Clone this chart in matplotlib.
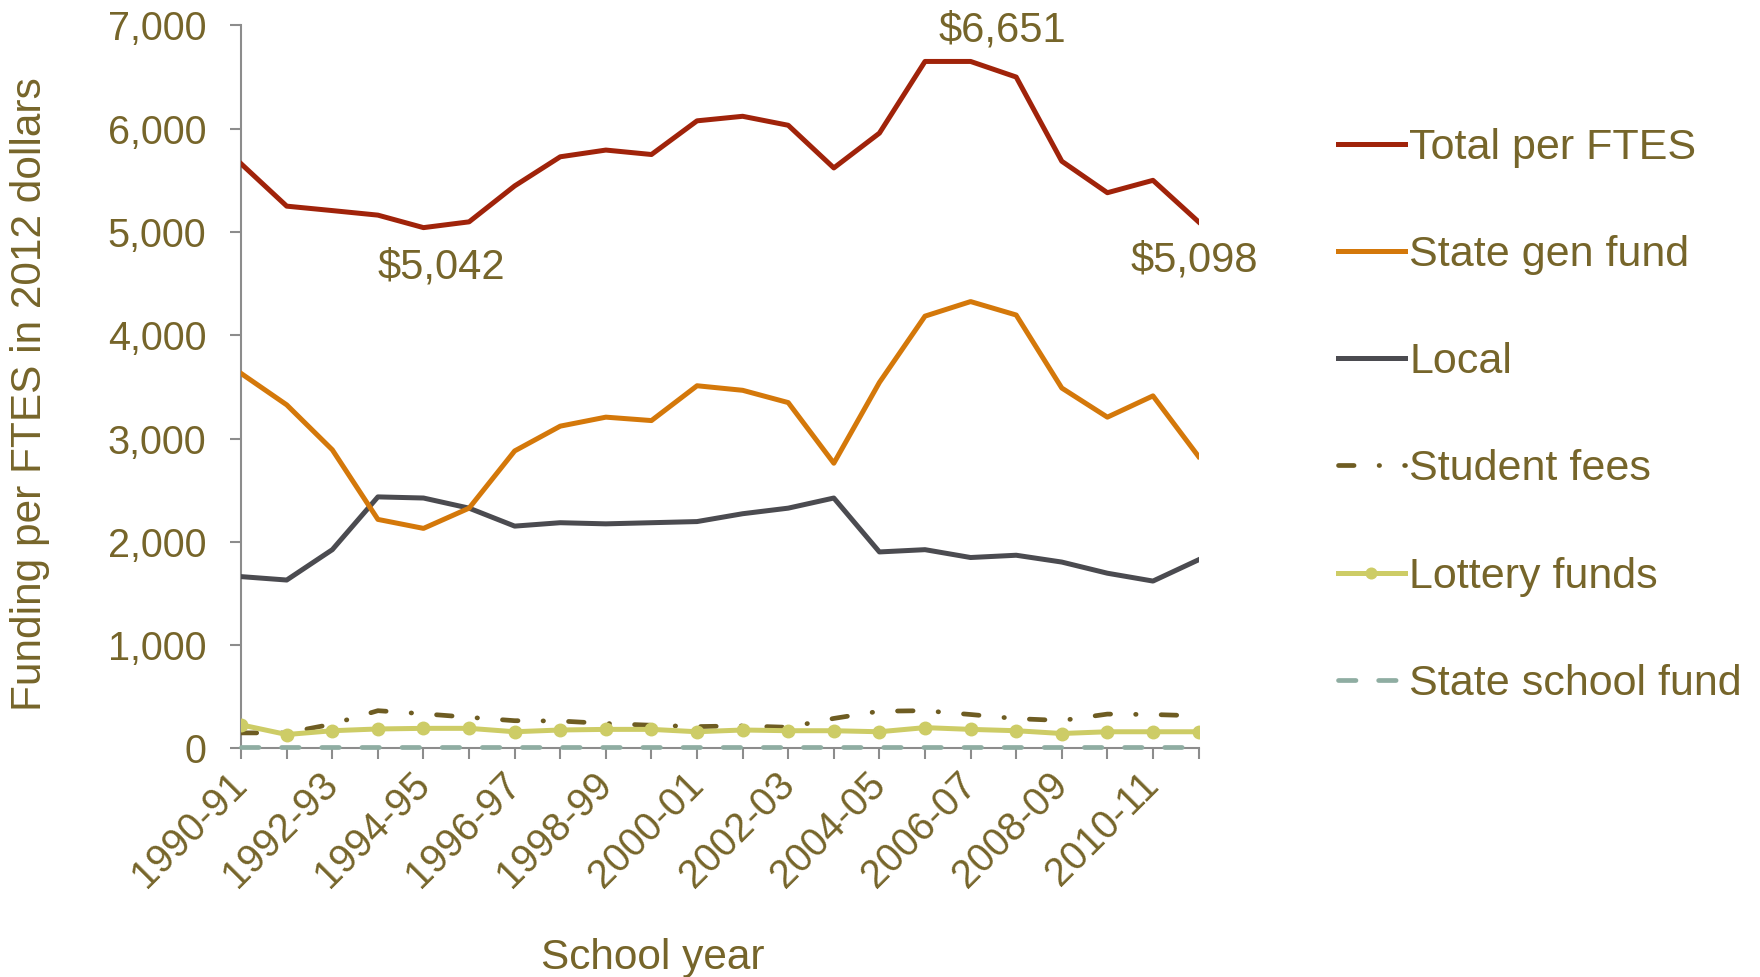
import matplotlib
matplotlib.use("Agg")
import matplotlib.pyplot as plt
from matplotlib.ticker import FuncFormatter

plt.rcParams["font.family"] = ["Liberation Sans", "DejaVu Sans"]

years = ["1990-91", "1991-92", "1992-93", "1993-94", "1994-95", "1995-96",
         "1996-97", "1997-98", "1998-99", "1999-00", "2000-01", "2001-02",
         "2002-03", "2003-04", "2004-05", "2005-06", "2006-07", "2007-08",
         "2008-09", "2009-10", "2010-11", "2011-12"]

total = [5660, 5250, 5207, 5163, 5042, 5098, 5446, 5728, 5793, 5750, 6076,
         6120, 6033, 5620, 5957, 6651, 6651, 6500, 5685, 5380, 5500, 5098]
state_gen = [3630, 3326, 2891, 2217, 2130, 2326, 2880, 3120, 3207, 3174, 3511,
             3467, 3348, 2761, 3543, 4185, 4326, 4196, 3489, 3207, 3413, 2826]
local = [1663, 1630, 1924, 2435, 2424, 2326, 2152, 2185, 2174, 2185, 2196,
         2272, 2326, 2424, 1902, 1924, 1848, 1870, 1804, 1696, 1620, 1826]
student_fees = [150, 150, 235, 365, 335, 301, 268, 265, 241, 224, 211,
                218, 204, 290, 360, 365, 328, 288, 270, 332, 328, 315]
lottery = [228, 134, 171, 188, 194, 194, 161, 178, 184, 184, 161,
           178, 171, 171, 161, 201, 184, 171, 144, 161, 161, 161]
state_school = [10] * 22

txt = "#76652a"
axis_gray = "#8c8c8c"

fig = plt.figure(figsize=(17.6, 9.77), dpi=100)
ax = fig.add_axes([0.137, 0.234, 0.544, 0.740])

x = list(range(len(years)))
ax.plot(x, state_school, color="#8fada2", lw=3.4, linestyle=(0, (3.7, 4.8)),
        dash_capstyle="round", label="State school fund", zorder=3,
        clip_on=False)
ax.plot(x, student_fees, color="#6e5c22", lw=3.4,
        linestyle=(0, (3.3, 5.3, 0.1, 5.3)),
        dash_capstyle="round", label="Student fees", zorder=3)
ax.plot(x, lottery, color="#cdcc66", lw=3.6, marker="o", markersize=9,
        label="Lottery funds", zorder=4)
ax.plot(x, local, color="#4b4b50", lw=3.6, label="Local", zorder=5)
ax.plot(x, state_gen, color="#d4780a", lw=3.6, label="State gen fund", zorder=6)
ax.plot(x, total, color="#a0230a", lw=3.6, label="Total per FTES", zorder=7)

ax.set_xlim(0, len(years) - 1)
ax.set_ylim(0, 7000)
ax.set_yticks(range(0, 7001, 1000))
ax.yaxis.set_major_formatter(FuncFormatter(lambda v, p: f"{int(v):,}"))
ax.set_xticks(x)
ax.set_xticklabels([y if i % 2 == 0 else "" for i, y in enumerate(years)],
                   rotation=45, ha="right", va="center", rotation_mode="anchor")

for s in ["top", "right"]:
    ax.spines[s].set_visible(False)
for s in ["left", "bottom"]:
    ax.spines[s].set_color(axis_gray)
    ax.spines[s].set_linewidth(1.5)
ax.tick_params(axis="both", colors=axis_gray, labelcolor=txt, labelsize=28.5,
               length=8, width=1.5, direction="out")
ax.tick_params(axis="x", pad=14)
ax.tick_params(axis="y", pad=17)

ax.set_ylabel("Funding per FTES in 2012 dollars", color=txt, fontsize=30.5)
ax.yaxis.set_label_coords(-0.20, 0.49)
ax.set_xlabel("School year", color=txt, fontsize=30.5)
ax.xaxis.set_label_coords(0.43, -0.262)

ax.text(4.4, 4660, "$5,042", color=txt, fontsize=30, ha="center", va="center")
ax.text(16.7, 6950, "$6,651", color=txt, fontsize=30, ha="center", va="center",
        clip_on=False)
ax.text(20.9, 4720, "$5,098", color=txt, fontsize=30, ha="center", va="center",
        clip_on=False)

handles, labels = ax.get_legend_handles_labels()
order = ["Total per FTES", "State gen fund", "Local", "Student fees",
         "Lottery funds", "State school fund"]
hl = dict(zip(labels, handles))
leg = ax.legend([hl[k] for k in order], order, loc="upper left",
                bbox_to_anchor=(0.760, 0.869), bbox_transform=fig.transFigure,
                frameon=False, fontsize=31, borderpad=0, borderaxespad=0,
                labelspacing=1.56, handlelength=1.56, handletextpad=0.1,
                markerscale=0.85)
for t in leg.get_texts():
    t.set_color(txt)

fig.savefig("out.png", dpi=100)
